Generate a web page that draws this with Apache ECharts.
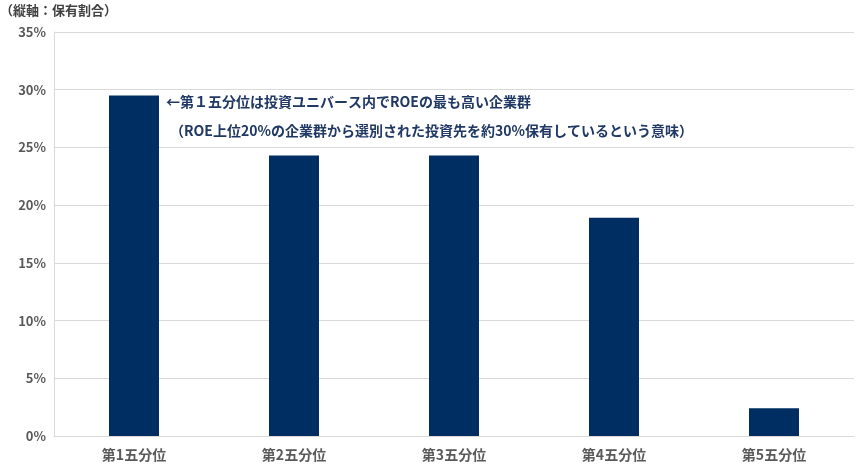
<!DOCTYPE html>
<html><head><meta charset="utf-8">
<script src="https://cdn.jsdelivr.net/npm/echarts@6/dist/echarts.min.js"></script>
<style>html,body{margin:0;padding:0;background:#fff}#c{width:859px;height:476px}</style>
</head><body><div id="c"></div>
<script>
const categories = ['第1五分位','第2五分位','第3五分位','第4五分位','第5五分位'];
const values = [29.5, 24.3, 24.3, 18.9, 2.4];
const yTicks = [0,5,10,15,20,25,30,35];
const axisTitle = '（縦軸：保有割合）';
const note1 = '←第１五分位は投資ユニバース内でROEの最も高い企業群';
const note2 = '（ROE上位20%の企業群から選別された投資先を約30%保有しているという意味）';
const font = '"Noto Sans CJK JP", sans-serif';
const chart = echarts.init(document.getElementById('c'));
chart.setOption({
  animation:false,
  grid:{left:54,right:5,top:32,bottom:40},
  xAxis:{type:'category',data:categories,
    axisLine:{lineStyle:{color:'#d9d9d9'}},axisTick:{show:false},
    axisLabel:{color:'#595959',fontWeight:'bold',fontSize:14,fontFamily:font,margin:12}},
  yAxis:{type:'value',min:0,max:35,interval:5,
    axisLine:{show:true,lineStyle:{color:'#d9d9d9'}},
    splitLine:{lineStyle:{color:'#d9d9d9'}},
    axisLabel:{formatter:v=>yTicks.includes(v)?v+'%':'',color:'#595959',fontWeight:'bold',fontSize:13,fontFamily:font}},
  series:[{type:'bar',data:values,barWidth:50,itemStyle:{color:'#002D62'}}],
  graphic:[
    {type:'text',left:0,top:4,style:{text:axisTitle,fill:'#404040',font:'bold 13px '+font}},
    {type:'text',left:166,top:95,style:{text:note1,fill:'#1F3864',font:'bold 14px '+font}},
    {type:'text',left:170,top:124,style:{text:note2,fill:'#1F3864',font:'bold 14px '+font}}
  ]
});
</script></body></html>
